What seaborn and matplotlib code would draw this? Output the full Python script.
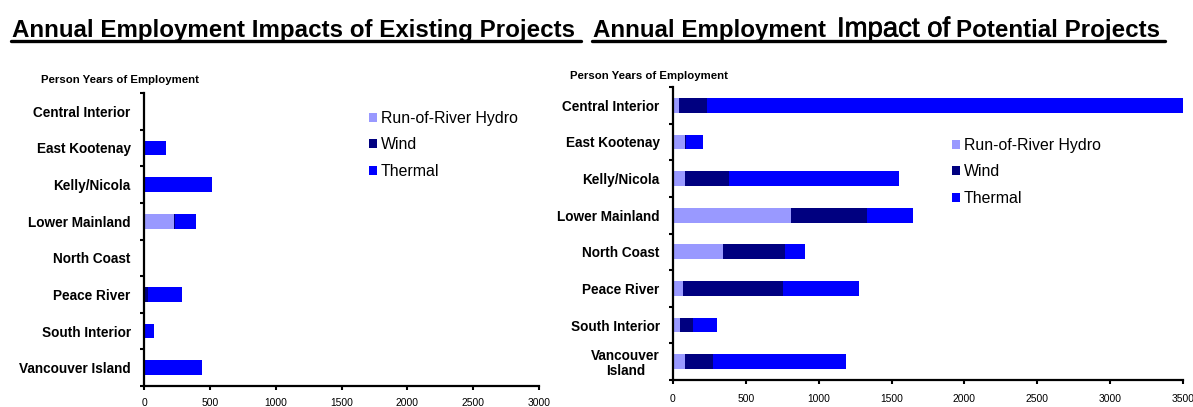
import matplotlib
matplotlib.use("Agg")
import matplotlib.pyplot as plt
import seaborn as sns
import pandas as pd
import numpy as np
from matplotlib.patches import Patch
from matplotlib.lines import Line2D
import matplotlib.patheffects as pe

# ---------------- data ----------------
regions = ["Central Interior", "East Kootenay", "Kelly/Nicola", "Lower Mainland",
           "North Coast", "Peace River", "South Interior", "Vancouver Island"]
regions_potential = ["Central Interior", "East Kootenay", "Kelly/Nicola", "Lower Mainland",
                     "North Coast", "Peace River", "South Interior", "Vancouver\nIsland"]
series_names = ["Run-of-River Hydro", "Wind", "Thermal"]

existing_hydro = [5, 0, 0, 225, 5, 5, 10, 3]
existing_wind = [0, 0, 0, 10, 0, 28, 0, 0]
existing_thermal = [0, 167, 515, 157, 0, 252, 66, 440]

potential_hydro = [40, 80, 85, 810, 345, 69, 46, 85]
potential_wind = [190, 12, 301, 518, 427, 683, 92, 191]
potential_thermal = [3290, 114, 1166, 320, 136, 524, 161, 913]

xticks_existing = [0, 500, 1000, 1500, 2000, 2500, 3000]
xticks_potential = [0, 500, 1000, 1500, 2000, 2500, 3000, 3500]

# ---------------- style ----------------
HYDRO_C = "#9999FF"
WIND_C = "#000080"
THERMAL_C = "#0000FF"

sns.set_style("ticks")
plt.rcParams["font.family"] = ["Liberation Sans", "DejaVu Sans"]
for key in ["text.color", "axes.labelcolor", "xtick.color", "ytick.color", "axes.edgecolor"]:
    plt.rcParams[key] = "black"

W, H = 1193, 407
fig = plt.figure(figsize=(W / 100, H / 100), dpi=100)


def px_axes(x0, y0, x1, y1):
    return fig.add_axes([x0 / W, 1 - y1 / H, (x1 - x0) / W, (y1 - y0) / H])


def draw(ax, labels, hydro, wind, thermal, xticks, xpad):
    df = pd.DataFrame({"region": labels, "hydro": hydro, "wind": wind, "thermal": thermal})
    df["hw"] = df["hydro"] + df["wind"]
    df["total"] = df["hw"] + df["thermal"]
    for col, color in [("total", THERMAL_C), ("hw", WIND_C), ("hydro", HYDRO_C)]:
        sns.barplot(data=df, x=col, y="region", orient="h", color=color, saturation=1,
                    width=0.4, errorbar=None, ax=ax, edgecolor="none", linewidth=0)
    ax.set_xlim(xticks[0], xticks[-1])
    ax.set_xticks(xticks)
    ax.set_ylim(7.5, -0.5)
    ax.set_xlabel("")
    ax.set_ylabel("")
    sns.despine(ax=ax)
    for s in ["left", "bottom"]:
        ax.spines[s].set_linewidth(1.6)
        ax.spines[s].set_color("black")
    ax.set_yticks(np.arange(-0.5, 8.0, 1.0), minor=True)
    ax.tick_params(axis="y", which="major", length=0, pad=9.6, labelcolor="black")
    ax.tick_params(axis="y", which="minor", length=3.2, width=1.5, direction="out", color="black")
    ax.tick_params(axis="x", which="major", length=3.2, width=1.5, direction="out",
                   pad=xpad, labelsize=7.4, color="black", labelcolor="black")
    for lab in ax.get_yticklabels():
        lab.set_fontweight("bold")
        lab.set_fontsize(9.8)
        lab.set_multialignment("center")
        lab.set_linespacing(1.1)


ax1 = px_axes(144, 93, 539, 386)
ax2 = px_axes(673, 87, 1183, 380)
draw(ax1, regions, existing_hydro, existing_wind, existing_thermal, xticks_existing, 5.2)
draw(ax2, regions_potential, potential_hydro, potential_wind, potential_thermal, xticks_potential, 7.0)

# ---------------- titles ----------------
def fx(px):
    return px / W


def fy(py):
    return 1 - py / H


base = fy(36.5)
fig.text(fx(11.5), base, "Annual Employment Impacts of Existing Projects", fontsize=17.4,
         fontweight="bold", va="baseline", ha="left")
fig.text(fx(592.6), base, "Annual Employment", fontsize=17.4, fontweight="bold",
         va="baseline", ha="left")
fig.text(fx(837), base, "Impact of", fontsize=19.8, fontweight="normal",
         va="baseline", ha="left",
         path_effects=[pe.withStroke(linewidth=0.5, foreground="black")])
fig.text(fx(955.5), base, "Potential Projects", fontsize=17.4, fontweight="bold",
         va="baseline", ha="left")
for x0, x1 in [(11, 581), (592, 1165)]:
    fig.add_artist(Line2D([fx(x0), fx(x1)], [fy(40.5), fy(40.5)], color="black",
                          linewidth=2.4, transform=fig.transFigure))

fig.text(fx(40.7), fy(80), "Person Years of Employment", fontsize=8.2, fontweight="bold",
         va="center", ha="left")
fig.text(fx(570), fy(75.7), "Person Years of Employment", fontsize=8.2, fontweight="bold",
         va="center", ha="left")

# ---------------- legends ----------------
handles = [Patch(facecolor=c, edgecolor="none") for c in [HYDRO_C, WIND_C, THERMAL_C]]
for (lx, ly) in [(369, 111), (951.7, 138)]:
    fig.legend(handles, series_names, loc="upper left", bbox_to_anchor=(fx(lx), fy(ly)),
               bbox_transform=fig.transFigure, frameon=False, fontsize=11.4,
               handlelength=0.5, handleheight=0.5, handletextpad=0.25,
               labelspacing=0.72, borderpad=0, borderaxespad=0)

fig.savefig("out.png", dpi=100)
